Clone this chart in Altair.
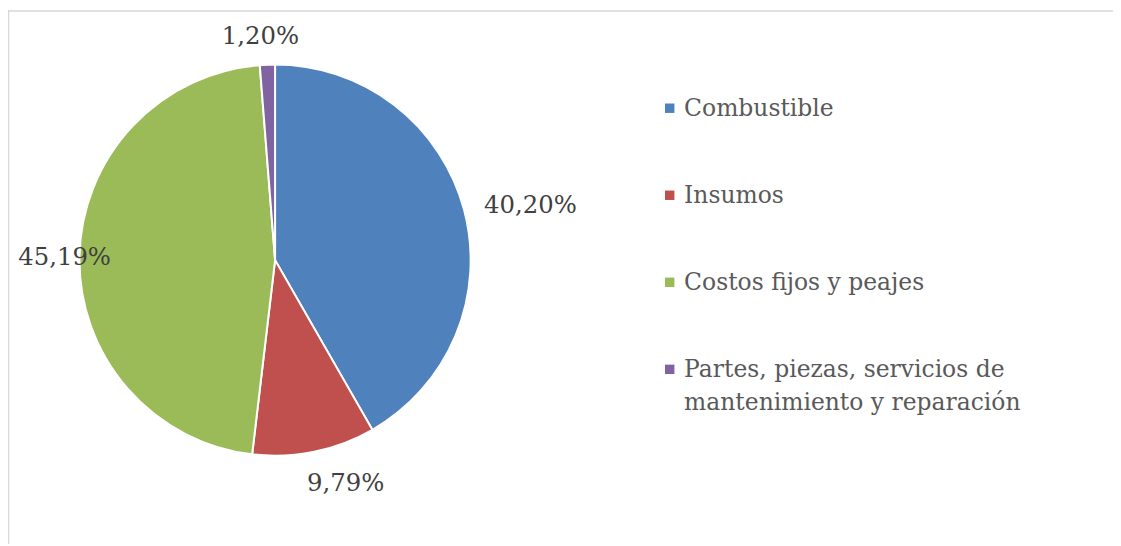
import altair as alt
import pandas as pd

categories = ["Combustible", "Insumos", "Costos fijos y peajes",
              "Partes, piezas, servicios de mantenimiento y reparación"]
values = [40.20, 9.79, 45.19, 1.20]
pct_labels = ["40,20%", "9,79%", "45,19%", "1,20%"]
legend_labels = ["Combustible", "Insumos", "Costos fijos y peajes",
                 "Partes, piezas, servicios de\nmantenimiento y reparación"]
colors = ["#4F81BD", "#C0504D", "#9BBB59", "#8064A2"]

df = pd.DataFrame({
    "cat": categories,
    "value": values,
    "pct": pct_labels,
    "leg": legend_labels,
    "idx": list(range(len(categories))),
})

CX, CY, R = 269, 252, 197
FONT = "DejaVu Serif"
W, H = 1113, 538

color = alt.Color("cat:N", scale=alt.Scale(domain=categories, range=colors), legend=None)
theta = alt.Theta("value:Q", stack=True)
order = alt.Order("idx:Q")

base = alt.Chart(df)

arcs = base.mark_arc(outerRadius=R, stroke="white", strokeWidth=2).encode(
    theta=theta, color=color, order=order,
    x=alt.value(CX), y=alt.value(CY),
)

# per-label placement (radius, dx, dy) like Excel's best-fit labels
placements = {
    "Combustible": (260, 6, 12),
    "Insumos": (230, 25, 0),
    "Costos fijos y peajes": (212, 0, 2),
    "Partes, piezas, servicios de mantenimiento y reparación": (225, -6, 0),
}
label_layers = []
for c in categories:
    r, dx, dy = placements[c]
    label_layers.append(
        base.mark_text(radius=r, dx=dx, dy=dy, align="center", baseline="middle",
                       font=FONT, fontSize=24.5, color="#404040").encode(
            theta=theta, order=order,
            x=alt.value(CX), y=alt.value(CY),
            text=alt.condition(alt.datum.cat == c, "pct:N", alt.value("")),
        )
    )

ypos = alt.Y("cat:N", sort=categories,
             scale=alt.Scale(type="point", domain=categories, range=[99, 362], padding=0),
             axis=None)

leg_sym = base.mark_square(size=90, opacity=1).encode(
    x=alt.value(666.5), y=ypos, color=color,
)
leg_txt = base.mark_text(align="left", baseline="alphabetic", dy=8, lineBreak="\n",
                         lineHeight=33, font=FONT, fontSize=23.6, color="#595959").encode(
    x=alt.value(681), y=ypos, text="leg:N",
)

frame_df = pd.DataFrame({"a": [0]})
top_line = alt.Chart(frame_df).mark_rule(color="#d9d9d9", strokeWidth=1.5).encode(
    x=alt.value(0), x2=alt.value(W), y=alt.value(1)
)
left_line = alt.Chart(frame_df).mark_rule(color="#d9d9d9", strokeWidth=1.5).encode(
    x=alt.value(0.5), y=alt.value(0), y2=alt.value(H)
)

chart = alt.layer(top_line, left_line, arcs, *label_layers, leg_sym, leg_txt).properties(
    width=W, height=H, padding=0, autosize=alt.AutoSizeParams(type="none"),
).configure_view(stroke=None).resolve_scale(y="shared")

chart.save("out.html", embed_options={"renderer": "svg", "actions": False})
